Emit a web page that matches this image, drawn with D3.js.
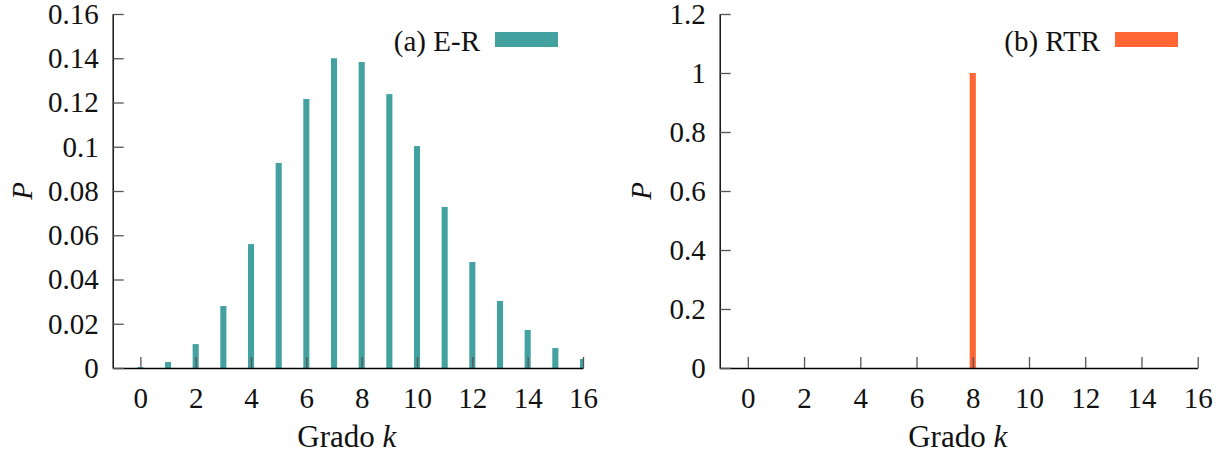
<!DOCTYPE html>
<html>
<head>
<meta charset="utf-8">
<script src="https://cdn.jsdelivr.net/npm/d3@7"></script>
<style>
  body { margin: 0; background: #fff; }
</style>
</head>
<body>
<svg id="chart" width="1228" height="459"></svg>
<script>
// degree k values
var kValues = [0, 1, 2, 3, 4, 5, 6, 7, 8, 9, 10, 11, 12, 13, 14, 15, 16];
// (a) E-R degree distribution
var erP = [0.0004, 0.0027, 0.0108, 0.028, 0.056, 0.0927, 0.1216, 0.140, 0.1383, 0.1238,
           0.1003, 0.0728, 0.0479, 0.0303, 0.0172, 0.0090, 0.0041];
// (b) RTR degree distribution
var rtrK = [8];
var rtrP = [1.0];

var xTicks = [0, 2, 4, 6, 8, 10, 12, 14, 16];
var erYTicks = [0, 0.02, 0.04, 0.06, 0.08, 0.1, 0.12, 0.14, 0.16];
var rtrYTicks = [0, 0.2, 0.4, 0.6, 0.8, 1, 1.2];

var FONT = "'Liberation Serif'";
var FS = "29px";
var svg = d3.select("#chart");

function panel(opts) {
    var x = d3.scaleLinear().domain([-1, 16]).range([opts.left, opts.right]);
    var y = d3.scaleLinear().domain([0, opts.ymax]).range([368, 14]);
    var g = svg.append("g");

    g.append("clipPath").attr("id", opts.id)
        .append("rect")
        .attr("x", opts.left).attr("y", 0)
        .attr("width", opts.right - opts.left).attr("height", 368);

    var bw = (x(1) - x(0)) * 0.22;
    g.append("g").attr("clip-path", "url(#" + opts.id + ")")
        .selectAll("rect")
        .data(opts.ks.map(function(k, i) { return {k: k, p: opts.ps[i]}; }))
        .enter()
        .append("rect")
        .attr("x", function(d) { return x(d.k) - bw / 2; })
        .attr("y", function(d) { return y(d.p); })
        .attr("width", bw)
        .attr("height", function(d) { return y(0) - y(d.p); })
        .attr("fill", opts.color);

    var xAxis = d3.axisBottom(x).tickValues(xTicks)
        .tickSizeInner(-11).tickSizeOuter(0).tickPadding(19)
        .tickFormat(d3.format("d"));
    var yAxis = d3.axisLeft(y).tickValues(opts.yticks)
        .tickSizeInner(-11).tickSizeOuter(0).tickPadding(14)
        .tickFormat(function(d) { return String(+d.toFixed(2)); });

    var gx = g.append("g").attr("transform", "translate(0,368)").call(xAxis);
    var gy = g.append("g").attr("transform", "translate(" + opts.left + ",0)").call(yAxis);
    [gx, gy].forEach(function(a) {
        a.select(".domain").attr("stroke", "#000").attr("stroke-width", 1.4);
        a.selectAll(".tick line").attr("stroke", "#555").attr("stroke-width", 1.3);
        a.selectAll(".tick text")
            .style("font-family", FONT).style("font-size", FS).attr("fill", "#111");
    });

    // axis titles
    var xl = g.append("text")
        .attr("x", (x(-1) + x(16)) / 2 - 1).attr("y", 447)
        .attr("text-anchor", "middle")
        .style("font-family", FONT).style("font-size", "31px").attr("fill", "#111");
    xl.append("tspan").text("Grado ");
    xl.append("tspan").style("font-style", "italic").text("k");

    g.append("text")
        .attr("transform", "translate(" + opts.pX + ",191) rotate(-90)")
        .attr("text-anchor", "middle")
        .style("font-family", FONT).style("font-size", FS).style("font-style", "italic")
        .attr("fill", "#111")
        .text("P");

    // legend
    g.append("text")
        .attr("x", opts.legX).attr("y", 51)
        .attr("text-anchor", "end")
        .style("font-family", FONT).style("font-size", FS).attr("fill", "#111")
        .text(opts.label);
    g.append("rect")
        .attr("x", opts.legX + 15).attr("y", 32)
        .attr("width", 63).attr("height", 15)
        .attr("fill", opts.color);
}

panel({id: "clipA", left: 112.7, right: 583, ymax: 0.16, ks: kValues, ps: erP,
       yticks: erYTicks, color: "#43a1a0", label: "(a) E-R", legX: 480, pX: 31.5});
panel({id: "clipB", left: 719.7, right: 1197.7, ymax: 1.2, ks: rtrK, ps: rtrP,
       yticks: rtrYTicks, color: "#ff6633", label: "(b) RTR", legX: 1100, pX: 651});
</script>
</body>
</html>
